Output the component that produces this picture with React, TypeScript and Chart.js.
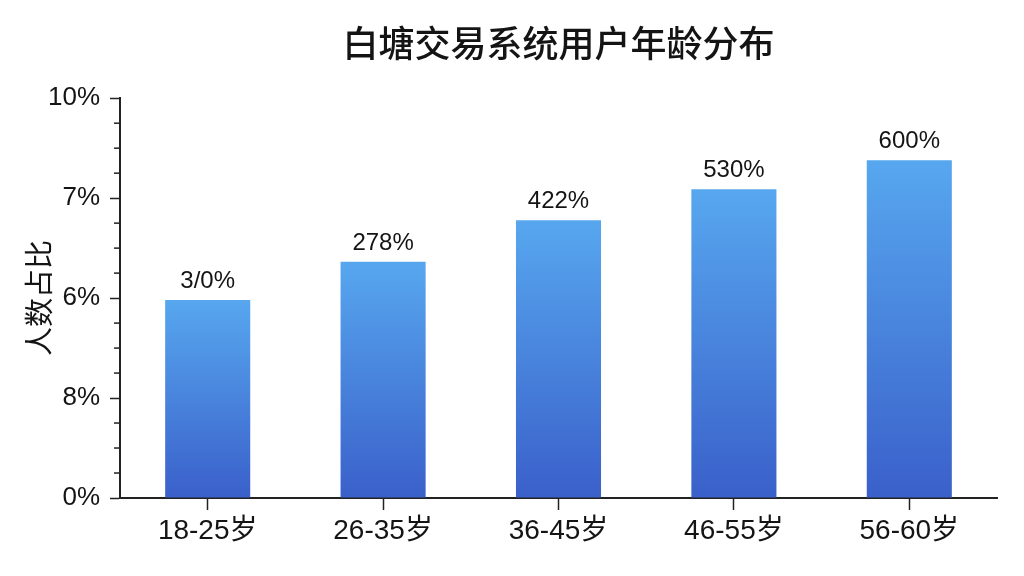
import React, { useEffect, useRef } from "react";
import { Chart, registerables } from "chart.js";

Chart.register(...registerables);

const chartTitle = "白塘交易系统用户年龄分布";
const yAxisTitle = "人数占比";
const categories = ["18-25岁", "26-35岁", "36-45岁", "46-55岁", "56-60岁"];
const barValues = [49.5, 59.1, 69.5, 77.2, 84.5];
const barLabels = ["3/0%", "278%", "422%", "530%", "600%"];
const yTickValues = [0, 25, 50, 75, 100];
const yTickLabels = ["0%", "8%", "6%", "7%", "10%"];
const yMinorStep = 6.25;

const TEXT = "#141414";
const AXIS = "#222222";
const BAR_TOP = "#57a7ef";
const BAR_BOTTOM = "#3a60ca";
const LATIN = "'Liberation Sans', Arial, 'Noto Sans CJK SC', sans-serif";
const CJK = "'Noto Sans CJK SC', 'Liberation Sans', sans-serif";

const minorTicksPlugin = {
  id: "minorTicks",
  afterDraw(chart: any) {
    const y = chart.scales.y;
    const ctx = chart.ctx;
    const left = chart.chartArea.left;
    ctx.save();
    ctx.strokeStyle = AXIS;
    ctx.lineWidth = 1.5;
    for (let v = 0; v <= 100 + 1e-9; v += yMinorStep) {
      if (yTickValues.includes(v)) continue;
      const py = y.getPixelForValue(v);
      ctx.beginPath();
      ctx.moveTo(left - 6, py);
      ctx.lineTo(left, py);
      ctx.stroke();
    }
    ctx.restore();
  },
};

const barLabelPlugin = {
  id: "barLabels",
  afterDatasetsDraw(chart: any) {
    const meta = chart.getDatasetMeta(0);
    const ctx = chart.ctx;
    ctx.save();
    ctx.font = `24px ${LATIN}`;
    ctx.fillStyle = TEXT;
    ctx.textAlign = "center";
    ctx.textBaseline = "alphabetic";
    meta.data.forEach((el: any, i: number) => {
      ctx.fillText(barLabels[i], el.x, el.y - 12);
    });
    ctx.restore();
  },
};

export default function App() {
  const canvasRef = useRef<HTMLCanvasElement | null>(null);

  useEffect(() => {
    document.body.style.margin = "0";
    const canvas = canvasRef.current;
    if (!canvas) return;
    const allTicks: number[] = [];
    for (let v = 0; v <= 100 + 1e-9; v += yMinorStep) allTicks.push(v);

    const chart = new Chart(canvas, {
      type: "bar",
      data: {
        labels: categories,
        datasets: [
          {
            data: barValues,
            backgroundColor: (c: any) => {
              const ch = c.chart;
              if (!ch.chartArea || c.raw == null) return BAR_TOP;
              const ys = ch.scales.y;
              const top = ys.getPixelForValue(c.raw);
              const bottom = ys.getPixelForValue(0);
              const g = ch.ctx.createLinearGradient(0, top, 0, bottom);
              g.addColorStop(0, BAR_TOP);
              g.addColorStop(1, BAR_BOTTOM);
              return g;
            },
            borderWidth: 0,
            categoryPercentage: 0.485,
            barPercentage: 1,
          },
        ],
      },
      options: {
        animation: false,
        responsive: true,
        maintainAspectRatio: false,
        layout: { padding: { left: 10, right: 27, top: 0, bottom: 0 } },
        plugins: {
          legend: { display: false },
          tooltip: { enabled: false },
          title: {
            display: true,
            text: chartTitle,
            fullSize: false,
            color: TEXT,
            font: { family: CJK, size: 36, weight: "500" },
            padding: { top: 22, bottom: 33 },
          } as any,
        },
        scales: {
          x: {
            type: "category",
            border: { display: true, color: AXIS, width: 2 },
            grid: {
              display: true,
              drawOnChartArea: false,
              drawTicks: true,
              tickLength: 12,
              tickColor: AXIS,
              tickWidth: 1.5,
              offset: false,
            },
            ticks: {
              color: TEXT,
              font: { family: LATIN, size: 28 },
              padding: 4,
              maxRotation: 0,
            },
            afterFit: (s: any) => {
              s.height = 78;
            },
          },
          y: {
            type: "linear",
            min: 0,
            max: 100,
            border: { display: true, color: AXIS, width: 2 },
            grid: {
              display: true,
              drawOnChartArea: false,
              drawTicks: true,
              tickLength: 10,
              tickWidth: 1.5,
              tickColor: (c: any) =>
                c.tick && yTickValues.includes(c.tick.value) ? AXIS : "rgba(0,0,0,0)",
            },
            afterBuildTicks: (s: any) => {
              s.ticks = allTicks.map((v) => ({ value: v }));
            },
            ticks: {
              autoSkip: false,
              color: TEXT,
              font: { family: LATIN, size: 26 },
              padding: 10,
              callback: (v: any) => {
                const i = yTickValues.indexOf(Number(v));
                return i >= 0 ? yTickLabels[i] : "";
              },
            },
            title: {
              display: true,
              text: yAxisTitle,
              color: TEXT,
              font: { family: CJK, size: 29 },
              padding: { top: 12, bottom: 0 },
            },
            afterFit: (s: any) => {
              s.width = 110;
            },
          },
        },
      } as any,
      plugins: [minorTicksPlugin, barLabelPlugin],
    });
    return () => chart.destroy();
  }, []);

  return (
    <div style={{ position: "absolute", left: 0, top: 0, width: 1024, height: 576, background: "#ffffff" }}>
      <canvas ref={canvasRef} />
    </div>
  );
}
